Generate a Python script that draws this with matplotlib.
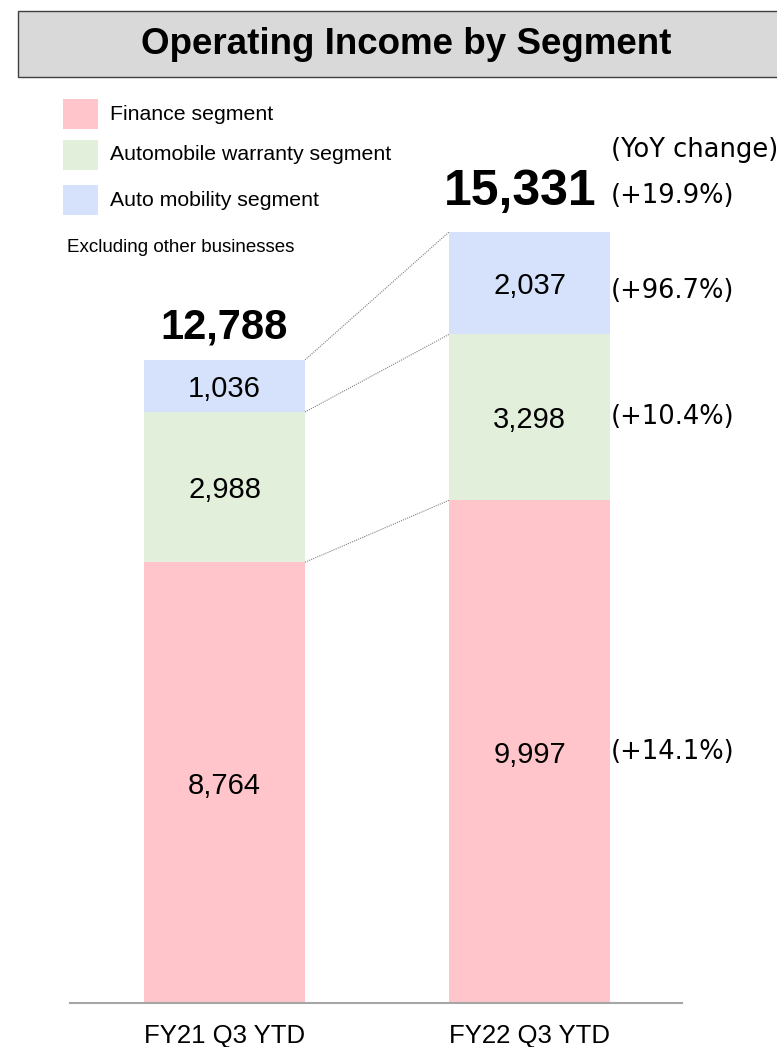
import matplotlib
matplotlib.use('Agg')
import matplotlib.pyplot as plt
from matplotlib.patches import Rectangle

# data
periods = ['FY21 Q3 YTD', 'FY22 Q3 YTD']
segments = ['Finance segment', 'Automobile warranty segment', 'Auto mobility segment']
finance = [8764, 9997]
warranty = [2988, 3298]
mobility = [1036, 2037]
totals = [12788, 15331]
yoy_total = '(+19.9%)'
yoy_segments = ['(+14.1%)', '(+10.4%)', '(+96.7%)']

colors = ['#FFC5CB', '#E2EFDA', '#D6E2FC']
W, H = 777, 1047

plt.rcParams['font.family'] = ['Liberation Sans', 'DejaVu Sans']
fig = plt.figure(figsize=(W / 100, H / 100), dpi=100)

# title box
fig.patches.append(Rectangle((18 / W, 1 - 77 / H), (W - 17) / W, 66 / H,
                             transform=fig.transFigure, facecolor='#D9D9D9',
                             edgecolor='#404040', linewidth=1.0))
fig.text(406 / W, 1 - 45 / H, 'Operating Income by Segment', ha='center', va='center',
         fontsize=26.5, fontweight='bold')

# legend
leg_y = [114, 155, 200]
for name, c, yy in zip(segments, colors, leg_y):
    fig.patches.append(Rectangle((63 / W, 1 - (yy + 15) / H), 35 / W, 30 / H,
                                 transform=fig.transFigure, facecolor=c, edgecolor='none'))
    fig.text(110 / W, 1 - yy / H, name, ha='left', va='center', fontsize=15.3)
fig.text(67 / W, 1 - 247 / H, 'Excluding other businesses', ha='left', va='center',
         fontsize=13.5)

# bars
ax = fig.add_axes([70 / W, 44 / H, 612 / W, 943 / H])
x = [0, 1]
bw = 0.528
bottoms = [0, 0]
layers = [finance, warranty, mobility]
for vals, c in zip(layers, colors):
    ax.bar(x, vals, bw, bottom=bottoms, color=c, edgecolor='none')
    for i in range(2):
        ax.text(x[i], bottoms[i] + vals[i] / 2, f'{vals[i]:,}', ha='center',
                va='center_baseline', fontsize=21)
    bottoms = [b + v for b, v in zip(bottoms, vals)]

# connectors
cum_left = [finance[0], finance[0] + warranty[0], totals[0]]
cum_right = [finance[1], finance[1] + warranty[1], totals[1]]
for yl, yr in zip(cum_left, cum_right):
    ax.plot([bw / 2, 1 - bw / 2], [yl, yr], ls=(0, (1, 1)), color='#808080', lw=0.8)

# totals
ax.text(0.0, totals[0] + 640, f'{totals[0]:,}', ha='center', va='center', fontsize=30,
        fontweight='bold')
ax.text(0.97, totals[1] + 790, f'{totals[1]:,}', ha='center', va='center', fontsize=36,
        fontweight='bold')

# yoy labels
xy = 1 + bw / 2 + 0.004
ax.text(xy, totals[1] + 1630, '(YoY change)', ha='left', va='center', fontsize=18.5,
        family='DejaVu Sans')
ax.text(xy, totals[1] + 720, yoy_total, ha='left', va='center', fontsize=18.5,
        family='DejaVu Sans')
seg_y = [finance[1] / 2, finance[1] + warranty[1] / 2 + 10,
         cum_right[1] + mobility[1] / 2 - 150]
for lab, yy in zip(yoy_segments, seg_y):
    ax.text(xy, yy, lab, ha='left', va='center', fontsize=18.5, family='DejaVu Sans')

ax.set_xlim(-0.5066, 1.5)
ax.set_ylim(0, 943 / 0.05029)
for s in ['top', 'right', 'left']:
    ax.spines[s].set_visible(False)
ax.spines['bottom'].set_color('#A6A6A6')
ax.spines['bottom'].set_linewidth(1.5)
ax.set_yticks([])
ax.set_xticks(x)
ax.set_xticklabels(periods, fontsize=18.5)
ax.tick_params(axis='x', length=0, pad=15)
ax.patch.set_visible(False)

fig.savefig('out.png', dpi=100)
